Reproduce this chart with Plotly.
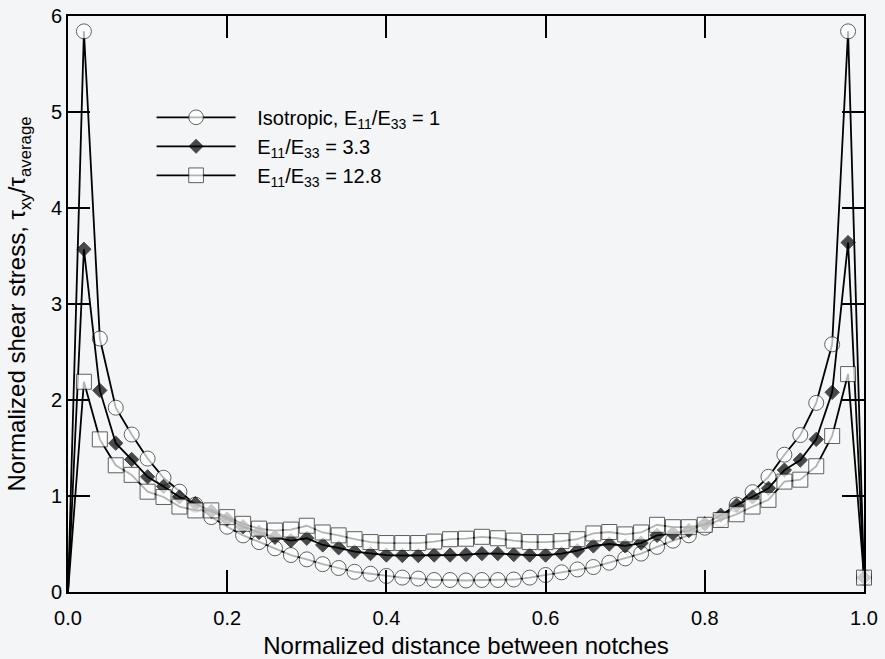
import plotly.graph_objects as go

# Normalized distance between notches
x_pos = [0.00, 0.02, 0.04, 0.06, 0.08, 0.10, 0.12, 0.14, 0.16, 0.18,
         0.20, 0.22, 0.24, 0.26, 0.28, 0.30, 0.32, 0.34, 0.36, 0.38,
         0.40, 0.42, 0.44, 0.46, 0.48, 0.50, 0.52, 0.54, 0.56, 0.58,
         0.60, 0.62, 0.64, 0.66, 0.68, 0.70, 0.72, 0.74, 0.76, 0.78,
         0.80, 0.82, 0.84, 0.86, 0.88, 0.90, 0.92, 0.94, 0.96, 0.98, 1.00]

iso = [0.0, 5.84, 2.64, 1.92, 1.64, 1.39, 1.19, 1.045, 0.91, 0.78,
       0.68, 0.59, 0.52, 0.455, 0.385, 0.34, 0.29, 0.25, 0.21, 0.19,
       0.167, 0.15, 0.14, 0.125, 0.125, 0.12, 0.125, 0.125, 0.13, 0.15,
       0.177, 0.205, 0.235, 0.26, 0.305, 0.35, 0.40, 0.47, 0.535, 0.59,
       0.67, 0.76, 0.91, 1.04, 1.20, 1.43, 1.635, 1.97, 2.58, 5.84, 0.15]

e33 = [0.0, 3.57, 2.10, 1.55, 1.38, 1.20, 1.10, 0.99, 0.92, 0.84,
       0.76, 0.68, 0.62, 0.57, 0.535, 0.56, 0.49, 0.46, 0.42, 0.40,
       0.385, 0.38, 0.38, 0.385, 0.385, 0.39, 0.40, 0.40, 0.39, 0.385,
       0.385, 0.40, 0.43, 0.48, 0.50, 0.48, 0.51, 0.59, 0.61, 0.64,
       0.71, 0.80, 0.905, 0.99, 1.08, 1.27, 1.375, 1.59, 2.08, 3.64, 0.15]

e128 = [0.0, 2.19, 1.59, 1.32, 1.22, 1.045, 0.99, 0.89, 0.85, 0.85,
        0.78, 0.71, 0.66, 0.64, 0.65, 0.69, 0.62, 0.59, 0.55, 0.52,
        0.51, 0.51, 0.51, 0.525, 0.55, 0.555, 0.575, 0.56, 0.535, 0.52,
        0.52, 0.53, 0.55, 0.61, 0.625, 0.60, 0.62, 0.70, 0.675, 0.675,
        0.70, 0.75, 0.81, 0.89, 0.96, 1.15, 1.17, 1.31, 1.625, 2.27, 0.15]

names = ["Isotropic, E<sub>11</sub>/E<sub>33</sub> = 1",
         "E<sub>11</sub>/E<sub>33</sub> = 3.3",
         "E<sub>11</sub>/E<sub>33</sub> = 12.8"]

x_title = "Normalized distance between notches"
y_title = "Normalized shear stress, τ<sub>xy</sub>/τ<sub>average</sub>"

x_ticks = [0.0, 0.2, 0.4, 0.6, 0.8, 1.0]
y_ticks = [0, 1, 2, 3, 4, 5, 6]

FONT = "Liberation Sans, Arial, Helvetica, sans-serif"
BG = "#f4f5f6"
PAD = "\u00a0\u00a0\u00a0"  # gap between legend symbol and text

def sizes(n, s):
    # first point (origin) has no visible marker in the reference
    return [0] + [s] * (n - 1)

fig = go.Figure()
fig.add_trace(go.Scatter(
    x=x_pos, y=iso, name=PAD + names[0], mode="lines+markers", cliponaxis=False,
    line=dict(color="black", width=1.8),
    marker=dict(symbol="circle", size=sizes(len(iso), 15), color="white",
                line=dict(color="#222", width=1))))
fig.add_trace(go.Scatter(
    x=x_pos, y=e33, name=PAD + names[1], mode="lines+markers", cliponaxis=False,
    line=dict(color="black", width=1.8),
    marker=dict(symbol="diamond", size=sizes(len(e33), 11), color="black",
                line=dict(color="black", width=1))))
fig.add_trace(go.Scatter(
    x=x_pos, y=e128, name=PAD + names[2], mode="lines+markers", cliponaxis=False,
    line=dict(color="black", width=1.8),
    marker=dict(symbol="square", size=sizes(len(e128), 15), color="white",
                line=dict(color="#222", width=1))))

axis_common = dict(
    showline=True, linecolor="black", linewidth=2, mirror="ticks",
    ticks="inside", ticklen=22, tickwidth=1.5, tickcolor="black",
    showgrid=False, zeroline=False, automargin=False,
    tickfont=dict(family=FONT, size=20, color="black"),
)

fig.update_xaxes(range=[0, 1], tickvals=x_ticks, tickformat=".1f",
                 ticklabelstandoff=7,
                 title=dict(text=x_title,
                            font=dict(family=FONT, size=24, color="black"),
                            standoff=14),
                 **axis_common)
fig.update_yaxes(range=[0, 6], tickvals=y_ticks,
                 title=dict(text=y_title,
                            font=dict(family=FONT, size=24, color="black"),
                            standoff=18),
                 **axis_common)

fig.update_layout(
    width=885, height=659,
    margin=dict(l=68, r=21, t=16, b=67, autoexpand=False),
    paper_bgcolor=BG, plot_bgcolor=BG,
    font=dict(family=FONT, color="black"),
    legend=dict(x=0.105, y=0.858, xanchor="left", yanchor="top",
                bgcolor="rgba(0,0,0,0)", itemwidth=79,
                font=dict(family=FONT, size=20, color="black")),
)

fig.write_html("out.html")
